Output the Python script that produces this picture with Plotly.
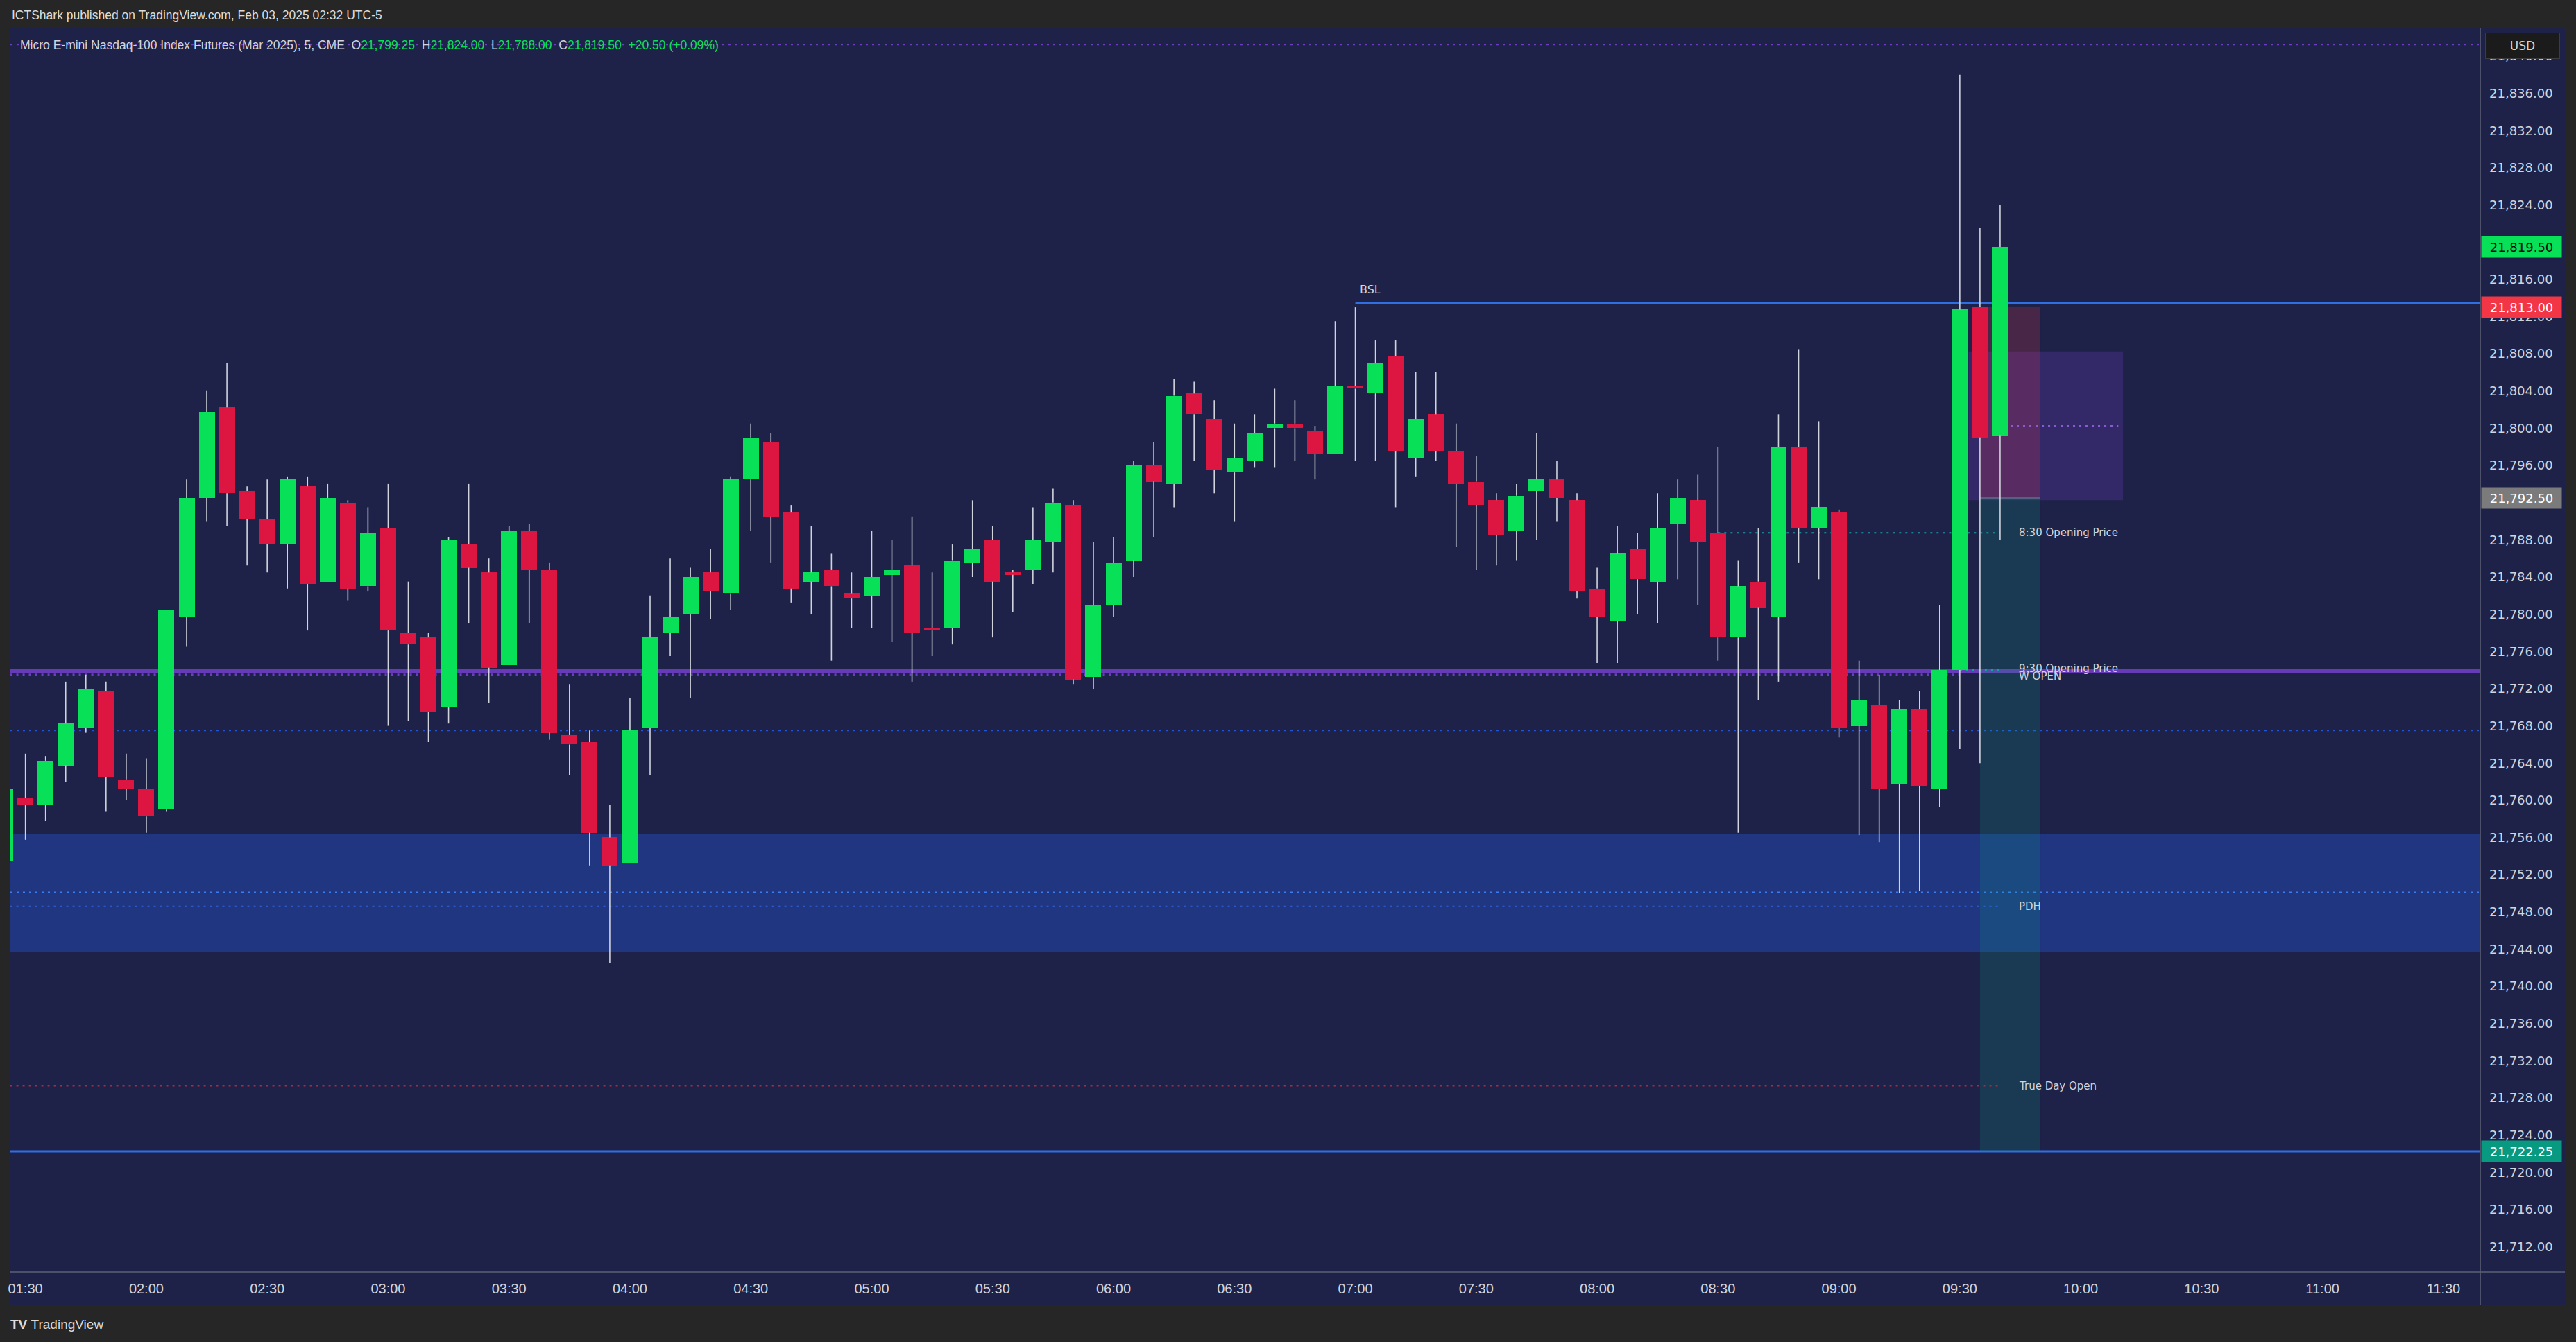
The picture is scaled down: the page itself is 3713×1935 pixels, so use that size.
import plotly.graph_objects as go

DAY = "2025-02-03"

# ---------------- data ----------------
times = ["01:25", "01:30", "01:35", "01:40", "01:45", "01:50", "01:55",
         "02:00", "02:05", "02:10", "02:15", "02:20", "02:25", "02:30", "02:35", "02:40", "02:45", "02:50", "02:55",
         "03:00", "03:05", "03:10", "03:15", "03:20", "03:25", "03:30", "03:35", "03:40", "03:45", "03:50", "03:55",
         "04:00", "04:05", "04:10", "04:15", "04:20", "04:25", "04:30", "04:35", "04:40", "04:45", "04:50", "04:55",
         "05:00", "05:05", "05:10", "05:15", "05:20", "05:25", "05:30", "05:35", "05:40", "05:45", "05:50", "05:55",
         "06:00", "06:05", "06:10", "06:15", "06:20", "06:25", "06:30", "06:35", "06:40", "06:45", "06:50", "06:55",
         "07:00", "07:05", "07:10", "07:15", "07:20", "07:25", "07:30", "07:35", "07:40", "07:45", "07:50", "07:55",
         "08:00", "08:05", "08:10", "08:15", "08:20", "08:25", "08:30", "08:35", "08:40", "08:45", "08:50", "08:55",
         "09:00", "09:05", "09:10", "09:15", "09:20", "09:25", "09:30", "09:35", "09:40"]

opens = [21753.5, 21760.25, 21759.5, 21763.75, 21767.75, 21771.75, 21762.25,
         21761.25, 21759.0, 21779.75, 21792.5, 21802.25, 21793.25, 21790.25, 21787.5, 21793.75, 21783.5, 21792.0, 21783.0,
         21789.25, 21778.0, 21777.5, 21770.0, 21787.5, 21784.5, 21774.5, 21789.0, 21784.75, 21767.0, 21766.25, 21756.0,
         21753.25, 21767.75, 21778.0, 21780.0, 21784.5, 21782.25, 21794.5, 21798.5, 21791.0, 21783.5, 21784.75, 21782.25,
         21782.0, 21784.25, 21785.25, 21778.5, 21778.5, 21785.5, 21788.0, 21784.5, 21784.75, 21787.75, 21791.75, 21773.25,
         21781.0, 21785.75, 21796.0, 21794.0, 21803.75, 21801.0, 21795.25, 21796.5, 21800.0, 21800.5, 21799.75, 21797.25,
         21804.5, 21803.75, 21807.75, 21796.75, 21801.5, 21797.5, 21794.25, 21792.25, 21789.0, 21793.25, 21794.5, 21792.25,
         21782.75, 21779.25, 21787.0, 21783.5, 21789.75, 21792.25, 21788.75, 21777.5, 21783.5, 21779.75, 21798.0, 21789.25,
         21791.0, 21768.0, 21770.25, 21761.75, 21769.75, 21761.25, 21774.0, 21813.0, 21799.25]

highs = [21762.0, 21765.0, 21764.75, 21772.75, 21773.5, 21772.75, 21765.0,
         21764.5, 21780.5, 21794.5, 21804.0, 21807.0, 21793.75, 21794.5, 21794.75, 21794.75, 21794.0, 21792.25, 21791.5,
         21794.0, 21783.5, 21778.0, 21788.25, 21794.0, 21786.0, 21789.5, 21789.75, 21785.5, 21772.5, 21767.5, 21759.5,
         21771.0, 21782.0, 21786.0, 21785.0, 21787.0, 21794.75, 21800.5, 21799.5, 21791.75, 21789.5, 21786.5, 21784.5,
         21789.0, 21788.0, 21790.5, 21784.5, 21787.5, 21792.25, 21789.5, 21784.75, 21791.5, 21793.5, 21792.25, 21787.75,
         21788.25, 21796.5, 21798.5, 21805.25, 21805.0, 21803.0, 21800.5, 21801.5, 21804.25, 21803.0, 21800.25, 21811.5,
         21813.0, 21809.5, 21809.5, 21806.0, 21806.0, 21800.5, 21797.0, 21793.0, 21794.0, 21799.5, 21796.5, 21793.0,
         21785.0, 21789.5, 21788.75, 21793.0, 21794.5, 21795.0, 21798.0, 21785.75, 21789.25, 21801.5, 21808.5, 21800.75,
         21791.25, 21775.0, 21773.5, 21770.75, 21771.75, 21781.0, 21838.0, 21821.5, 21824.0]

lows = [21752.0, 21755.75, 21757.75, 21762.0, 21767.25, 21758.75, 21760.0,
        21756.5, 21758.75, 21776.5, 21790.0, 21789.5, 21785.25, 21784.5, 21782.75, 21778.25, 21783.5, 21781.5, 21782.5,
        21768.0, 21768.5, 21766.25, 21768.25, 21779.0, 21770.5, 21774.5, 21779.0, 21766.5, 21762.75, 21753.0, 21742.5,
        21753.25, 21762.75, 21775.5, 21771.0, 21779.5, 21780.5, 21789.0, 21785.5, 21781.25, 21780.0, 21775.0, 21778.5,
        21778.5, 21777.0, 21772.75, 21775.5, 21776.75, 21784.0, 21777.5, 21780.25, 21783.25, 21784.5, 21772.5, 21772.0,
        21779.75, 21784.0, 21788.25, 21791.5, 21796.5, 21793.0, 21790.0, 21795.75, 21795.75, 21796.5, 21794.5, 21797.25,
        21796.5, 21796.5, 21791.5, 21794.75, 21796.5, 21787.25, 21784.75, 21785.25, 21785.75, 21788.0, 21790.0, 21781.75,
        21774.75, 21774.75, 21780.0, 21779.0, 21783.75, 21781.0, 21775.0, 21756.5, 21770.75, 21772.75, 21785.5, 21783.75,
        21766.75, 21756.25, 21755.5, 21750.0, 21750.25, 21759.25, 21765.5, 21764.0, 21788.0]

closes = [21761.25, 21759.5, 21764.25, 21768.25, 21772.0, 21762.5, 21761.25,
          21758.25, 21780.5, 21792.5, 21801.75, 21793.0, 21790.25, 21787.5, 21794.5, 21783.25, 21792.5, 21782.75, 21788.75,
          21778.25, 21776.75, 21769.5, 21788.0, 21785.0, 21774.25, 21789.0, 21784.75, 21767.25, 21766.0, 21756.5, 21753.0,
          21767.5, 21777.5, 21779.75, 21784.0, 21782.5, 21794.5, 21799.0, 21790.5, 21782.75, 21784.5, 21783.0, 21781.75,
          21784.0, 21784.75, 21778.0, 21778.25, 21785.75, 21787.0, 21783.5, 21784.25, 21788.0, 21792.0, 21773.0, 21781.0,
          21785.5, 21796.0, 21794.25, 21803.5, 21801.5, 21795.5, 21796.75, 21799.5, 21800.5, 21800.0, 21797.25, 21804.5,
          21804.25, 21807.0, 21797.5, 21801.0, 21797.5, 21794.0, 21791.75, 21788.5, 21792.75, 21794.5, 21792.5, 21782.5,
          21779.75, 21786.5, 21783.75, 21789.25, 21792.5, 21787.75, 21777.5, 21783.0, 21780.75, 21798.0, 21789.25, 21791.5,
          21767.75, 21770.75, 21761.25, 21769.75, 21761.5, 21774.0, 21812.75, 21799.0, 21819.5]

tick_labels = ["01:30", "02:00", "02:30", "03:00", "03:30", "04:00", "04:30", "05:00", "05:30", "06:00", "06:30",
               "07:00", "07:30", "08:00", "08:30", "09:00", "09:30", "10:00", "10:30", "11:00", "11:30"]

price_ticks = [21712, 21716, 21720, 21724, 21728, 21732, 21736, 21740, 21744, 21748, 21752, 21756, 21760,
               21764, 21768, 21772, 21776, 21780, 21784, 21788, 21792, 21796, 21800, 21804, 21808, 21812,
               21816, 21820, 21824, 21828, 21832, 21836, 21840]

# key levels drawn on the chart
lvl_top_dotted = 21841.25
lvl_bsl = 21813.5
lvl_w_open = 21773.9
lvl_w_open_dot = 21773.5
lvl_930_open = 21774.0
lvl_830_open = 21788.75
lvl_blue_dot = 21767.5
zone_top, zone_bot = 21756.4, 21743.7
lvl_zone_dot1 = 21750.1
lvl_pdh = 21748.6
lvl_true_day_open = 21729.3
lvl_low_line = 21722.25
red_box = (21813.0, 21792.5)
purple_box = (21808.25, 21792.25)
purple_mid = 21800.25
label_green = 21819.5
label_red = 21813.0
label_gray = 21792.5
label_teal = 21722.25

# ---------------- figure ----------------
BG = "#1e2248"
OUT = "#262626"
GREEN = "#08e157"
RED = "#dc1640"
TXT = "#d1d4dc"

W, H = 3713, 1935
PL, PR, PT, PB = 15, 3575, 40, 1834   # plot area in px


def px_x(px):
    return (px - PL) / (PR - PL)


def px_y(py):
    return (PB - py) / (PB - PT)


def T(t):
    return f"{DAY} {t}"


xs = [T(t) for t in times]
base = [min(o, c) for o, c in zip(opens, closes)]
height = [abs(c - o) for o, c in zip(opens, closes)]
colors = [GREEN if c >= o else RED for o, c in zip(opens, closes)]

wx, wy = [], []
for xi, o, h, l, c in zip(xs, opens, highs, lows, closes):
    top, bot = max(o, c), min(o, c)
    if h > top:
        wx += [xi, xi, None]
        wy += [h, top, None]
    if l < bot:
        wx += [xi, xi, None]
        wy += [bot, l, None]

fig = go.Figure()
fig.add_trace(go.Scatter(x=wx, y=wy, mode="lines", line=dict(color="#d1d4dc", width=1.6),
                         hoverinfo="skip", showlegend=False))
fig.add_trace(go.Bar(x=xs, y=height, base=base, width=237600,
                     marker=dict(color=colors, line=dict(width=0)), hoverinfo="skip", showlegend=False))

shapes = []
# pane background (extends under axes)
shapes.append(dict(type="rect", xref="paper", yref="paper", x0=0, x1=px_x(3697), y0=px_y(1881), y1=1,
                   fillcolor=BG, line=dict(width=0), layer="below"))
# blue zone
shapes.append(dict(type="rect", xref="paper", yref="y", x0=0, x1=1, y0=zone_bot, y1=zone_top,
                   fillcolor="#203680", line=dict(width=0), layer="below"))
# purple box, red box, teal box
shapes.append(dict(type="rect", xref="x", yref="y", x0=T("09:32:10"), x1=T("10:10:30"),
                   y0=purple_box[1], y1=purple_box[0], fillcolor="rgba(103,58,183,0.3)",
                   line=dict(width=0), layer="below"))
shapes.append(dict(type="rect", xref="x", yref="y", x0=T("09:35"), x1=T("09:50"),
                   y0=red_box[1], y1=red_box[0], fillcolor="rgba(242,54,69,0.2)",
                   line=dict(width=0), layer="below"))
shapes.append(dict(type="rect", xref="x", yref="y", x0=T("09:35"), x1=T("09:50"),
                   y0=lvl_low_line, y1=red_box[1], fillcolor="rgba(8,153,129,0.2)",
                   line=dict(width=0), layer="below"))
shapes.append(dict(type="line", xref="x", yref="y", x0=T("09:35"), x1=T("09:50"),
                   y0=red_box[1], y1=red_box[1], line=dict(color="#7d8590", width=1), layer="below"))
shapes.append(dict(type="line", xref="x", yref="y", x0=T("09:37:57"), x1=T("10:09:20"),
                   y0=purple_mid, y1=purple_mid, line=dict(color="#8a5cd0", width=2, dash="3px,6px"),
                   layer="below"))


def hline(y, color, width, dash=None, x0=0, x1=1, xref="paper"):
    ln = dict(color=color, width=width)
    if dash:
        ln["dash"] = dash
    shapes.append(dict(type="line", xref=xref, yref="y", x0=x0, x1=x1, y0=y, y1=y, line=ln, layer="below"))


hline(lvl_top_dotted, "#6a3fc4", 2, "3px,6px")
hline(lvl_bsl, "#2f6fe4", 3, x0=T("07:00"), x1=T("11:45"), xref="x")
hline(lvl_blue_dot, "#2155d6", 2, "3px,6px")
hline(lvl_zone_dot1, "#3d7bf2", 2, "3px,6px")
hline(lvl_pdh, "#2f63e0", 2, "3px,6px", x0=T("01:20"), x1=T("09:40"), xref="x")
hline(lvl_true_day_open, "#b3263f", 2, "3px,6px", x0=T("01:20"), x1=T("09:40"), xref="x")
hline(lvl_830_open, "#12a0a8", 2, "3px,6px", x0=T("08:30"), x1=T("09:40"), xref="x")
hline(lvl_w_open_dot, "#6a3fc4", 3, "3px,6px", x0=T("01:20"), x1=T("09:30"), xref="x")
hline(lvl_930_open, "#12a0a8", 2, "3px,6px", x0=T("09:30"), x1=T("09:40"), xref="x")
hline(lvl_w_open, "#673ab7", 5)
hline(lvl_low_line, "#2f6fe4", 3)

# pane separators
shapes.append(dict(type="line", xref="paper", yref="paper", x0=1, x1=1, y0=px_y(1881), y1=1,
                   line=dict(color="#5d6175", width=1.5)))
shapes.append(dict(type="line", xref="paper", yref="paper", x0=0, x1=px_x(3697), y0=0, y1=0,
                   line=dict(color="#5d6175", width=1.5)))

ann = []
LBL = dict(family="DejaVu Sans", size=15, color=TXT)
lx = px_x(2908)
ann.append(dict(xref="paper", yref="y", x=lx, y=lvl_830_open, text="8:30 Opening Price",
                xanchor="left", yanchor="middle", showarrow=False, font=LBL))
ann.append(dict(xref="paper", yref="y", x=lx, y=lvl_930_open + 0.15, text="9:30 Opening Price",
                xanchor="left", yanchor="middle", showarrow=False, font=LBL))
ann.append(dict(xref="paper", yref="y", x=lx, y=lvl_w_open - 0.55, text="W OPEN",
                xanchor="left", yanchor="middle", showarrow=False, font=LBL))
ann.append(dict(xref="paper", yref="y", x=lx, y=lvl_pdh, text="PDH",
                xanchor="left", yanchor="middle", showarrow=False, font=LBL))
ann.append(dict(xref="paper", yref="y", x=lx, y=lvl_true_day_open, text="True Day Open",
                xanchor="left", yanchor="middle", showarrow=False, font=LBL))
ann.append(dict(xref="paper", yref="y", x=px_x(1958), y=lvl_bsl + 1.4, text="BSL",
                xanchor="left", yanchor="middle", showarrow=False, font=dict(family="DejaVu Sans", size=16, color=TXT)))

# price-axis value labels
AX = dict(family="DejaVu Sans", size=18)
for val, bg, fc in [(label_green, "#08e157", "#0b0b0b"), (label_red, "#f23645", "#ffffff"),
                    (label_gray, "#7b7b7b", "#ffffff"), (label_teal, "#089981", "#ffffff")]:
    ann.append(dict(xref="paper", yref="y", x=px_x(3576), y=val, text=f"{val:,.2f}",
                    xanchor="left", yanchor="middle", showarrow=False, width=115, height=30,
                    bgcolor=bg, borderpad=0, font=dict(AX, color=fc)))
ann.append(dict(xref="paper", yref="paper", x=px_x(3636), y=px_y(66), text="USD", xanchor="center",
                yanchor="middle", showarrow=False, width=104, height=34, bgcolor="#1b1b1b",
                bordercolor="#3c3c3c", borderwidth=1, font=dict(family="DejaVu Sans", size=17, color=TXT)))

# header texts
o, h, l, c = opens[-1], highs[-1], lows[-1], closes[-1]
chg = c - closes[-2]
pct = chg / closes[-2] * 100
G = "#08e157"
sp = "\u00a0\u00a0"
head = ("Micro E-mini Nasdaq-100 Index Futures (Mar 2025), 5, CME" + sp +
        f"O<span style='color:{G}'>{o:,.2f}</span>" + sp +
        f"H<span style='color:{G}'>{h:,.2f}</span>" + sp +
        f"L<span style='color:{G}'>{l:,.2f}</span>" + sp +
        f"C<span style='color:{G}'>{c:,.2f}</span>" + sp +
        f"<span style='color:{G}'>{chg:+,.2f} ({pct:+.2f}%)</span>")
ann.append(dict(xref="paper", yref="paper", x=px_x(27), y=px_y(65), text=head, xanchor="left",
                yanchor="middle", showarrow=False, font=dict(family="Liberation Sans", size=17.5, color=TXT)))
ann.append(dict(xref="paper", yref="paper", x=px_x(15), y=px_y(22),
                text="ICTShark published on TradingView.com, Feb 03, 2025 02:32 UTC-5", xanchor="left",
                yanchor="middle", showarrow=False, font=dict(family="Liberation Sans", size=17.5, color="#dcdcdc")))
ann.append(dict(xref="paper", yref="paper", x=px_x(13), y=px_y(1910),
                text="<b>TV</b>\u00a0TradingView", xanchor="left",
                yanchor="middle", showarrow=False, font=dict(family="Liberation Sans", size=19, color="#dcdcdc")))

fig.update_layout(
    width=W, height=H,
    paper_bgcolor=OUT, plot_bgcolor=BG,
    margin=dict(l=PL, r=W - PR, t=PT, b=H - PB, pad=0),
    showlegend=False, barmode="overlay", bargap=0,
    shapes=shapes, annotations=ann,
    xaxis=dict(type="date", range=[T("01:26:16.4"), T("11:39:08.4")],
               tickvals=[T(t) for t in tick_labels], ticktext=tick_labels,
               ticks="", showgrid=False, zeroline=False, showline=False,
               tickfont=dict(family="Liberation Sans", size=20, color=TXT), ticklabelstandoff=10),
    yaxis=dict(side="right", range=[21709.28, 21843.06], tickvals=price_ticks,
               ticktext=[f"{v:,.2f}" for v in price_ticks],
               ticks="", showgrid=False, zeroline=False, showline=False,
               tickfont=dict(family="DejaVu Sans", size=18, color=TXT), ticklabelstandoff=12),
)

fig.write_html("out.html", config={"displayModeBar": False, "staticPlot": True},
               post_script="document.body.style.margin='0px';document.body.style.overflow='hidden';")
